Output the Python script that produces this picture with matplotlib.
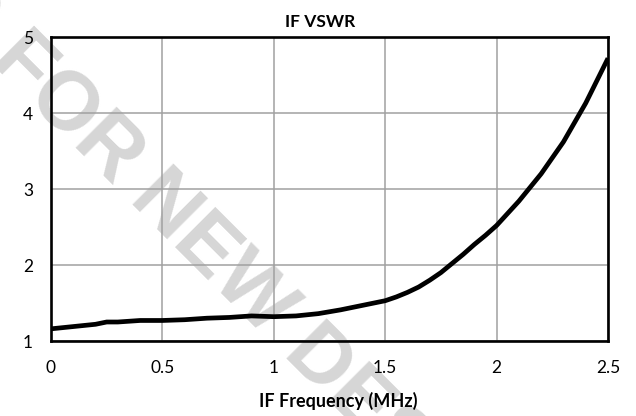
import numpy as np
import matplotlib
matplotlib.use("Agg")
import matplotlib.pyplot as plt

# IF VSWR vs frequency
freq_mhz = [0, 0.1, 0.2, 0.25, 0.3, 0.4, 0.5, 0.6, 0.7, 0.8, 0.9, 1.0, 1.1, 1.2,
            1.3, 1.4, 1.5, 1.55, 1.6, 1.65, 1.7, 1.75, 1.8, 1.85, 1.9, 1.95,
            2.0, 2.1, 2.2, 2.3, 2.4, 2.5]
vswr = [1.16, 1.19, 1.22, 1.25, 1.25, 1.27, 1.27, 1.28, 1.30, 1.31, 1.33, 1.32, 1.33, 1.36,
        1.41, 1.47, 1.53, 1.58, 1.64, 1.71, 1.80, 1.90, 2.02, 2.14, 2.27, 2.39,
        2.52, 2.84, 3.20, 3.62, 4.13, 4.72]
xticks = [0, 0.5, 1, 1.5, 2, 2.5]
xtick_labels = ["0", "0.5", "1", "1.5", "2", "2.5"]
yticks = [1, 2, 3, 4, 5]

plt.rcParams['font.family'] = ['Lato', 'DejaVu Sans']

W, H = 636, 416
fig = plt.figure(figsize=(W / 100, H / 100), dpi=100)
ax = fig.add_axes([51 / W, 1 - 341 / H, (608 - 51) / W, (341 - 37) / H])
ax.patch.set_alpha(0)

# watermark behind everything (anchored at the start of "NEW")
ang = -45
wm = dict(rotation=ang, rotation_mode='anchor', va='baseline', fontsize=60,
          fontweight='bold', family='Liberation Sans', color='#d6d6d6', zorder=-5)
nx, ny = 128, 200
dx, dy = np.cos(np.radians(-ang)), np.sin(np.radians(-ang))
gap = 20
fig.text(nx / W, 1 - ny / H, "NEW DESIGNS", ha='left', **wm)
fig.text((nx - gap * dx) / W, 1 - (ny - gap * dy) / H, "NOT RECOMMENDED FOR",
         ha='right', **wm)

ax.plot(freq_mhz, vswr, color='black', lw=3.4, solid_joinstyle='round',
        solid_capstyle='butt', zorder=3)

ax.set_xlim(0, 2.5)
ax.set_ylim(1, 5)
ax.set_xticks(xticks)
ax.set_xticklabels(xtick_labels)
ax.set_yticks(yticks)
ax.grid(True, color='#a0a0a0', lw=1.1)
ax.tick_params(length=0, labelsize=12.5, colors='black')
ax.tick_params(axis='x', pad=14)
ax.tick_params(axis='y', pad=13)
for s in ax.spines.values():
    s.set_color('black')
    s.set_linewidth(1.9)

fig.text(320 / W, 1 - 27 / H, "IF VSWR", ha='center', va='baseline',
         fontsize=12.5, fontweight='bold')
fig.text(338 / W, 1 - 407 / H, "IF Frequency (MHz)", ha='center', va='baseline',
         fontsize=13, fontweight='bold')

fig.savefig("out.png", dpi=100)
